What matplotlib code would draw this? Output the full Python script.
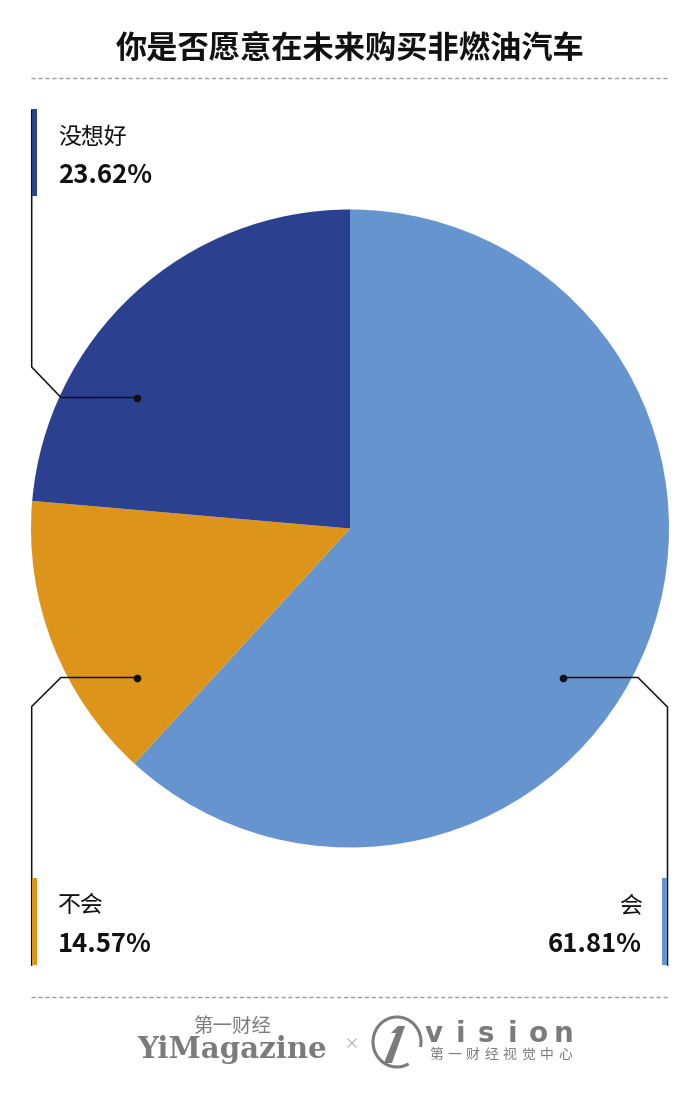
import matplotlib
matplotlib.use("Agg")
import matplotlib.pyplot as plt
from matplotlib.patches import Arc, Rectangle, Polygon
import numpy as np

plt.rcParams['font.family'] = ['Noto Sans CJK SC', 'DejaVu Sans']

# data
title = "你是否愿意在未来购买非燃油汽车"
labels = ["会", "不会", "没想好"]
values = [61.81, 14.57, 23.62]
colors = ["#6694CE", "#DD941B", "#2B418F"]

W, H = 700, 1101
fig = plt.figure(figsize=(W / 100, H / 100), dpi=100)
ax = fig.add_axes([0, 0, 1, 1])

# pie (y axis is inverted below, so start at -90 and go "counterclock" = clockwise on screen)
cx, cy, R = 350, 528.5, 319
ax.pie(values, colors=colors, startangle=-90, counterclock=True,
       center=(cx, cy), radius=R, wedgeprops=dict(linewidth=0))

ax.set_xlim(0, W)
ax.set_ylim(H, 0)
ax.set_aspect('auto')
ax.axis('off')

# title + dashed rules
ax.text(350, 57, title, ha='center', va='baseline', fontsize=22.5,
        fontweight='bold', color='#111111')
for yy in (78, 997):
    ax.plot([31, 669], [yy, yy], color='#9a9a9a', lw=1, ls=(0, (3, 2)))

# leader lines
leaders = {
    "没想好": [(137, 397.5), (61, 397.5), (31.7, 367), (31.7, 110)],
    "不会": [(137, 677.5), (61, 677.5), (31.7, 706.5), (31.7, 965)],
    "会": [(563, 677.5), (638, 677.5), (667.5, 707), (667.5, 965)],
}
for lab in labels:
    pts = np.array(leaders[lab])
    ax.plot(pts[:, 0], pts[:, 1], color='#111111', lw=1.1, solid_joinstyle='miter')
    ax.plot(pts[0, 0], pts[0, 1], 'o', color='#111111', ms=4.5)

# label blocks: (bar x, bar top, text x, name baseline, pct baseline, ha)
blocks = {
    "没想好": (31.5, 109, 58, 144, 183, 'left'),
    "不会": (31.5, 878, 58, 912, 952, 'left'),
    "会": (661.5, 878, 642, 912, 952, 'right'),
}
for lab, val, col in zip(labels, values, colors):
    bx, by, tx, ny, py, ha = blocks[lab]
    ax.add_patch(Rectangle((bx, by), 5.5, 87, color=col, lw=0, zorder=3))
    ax.text(tx, ny, lab, ha=ha, va='baseline', fontsize=16.5, color='#111111')
    ax.text(tx, py, f"{val:.2f}%", ha=ha, va='baseline', fontsize=18.5,
            fontweight='bold', color='#111111')

# footer logos
gray = '#7b7b7b'
ax.text(232, 1032, "第一财经", ha='center', va='baseline', fontsize=14, color=gray)
ax.text(232, 1058, "YiMagazine", ha='center', va='baseline', fontsize=21,
        fontweight='bold', family='DejaVu Serif', color=gray)
ax.plot([348, 356], [1039, 1047], color='#b0b0b0', lw=0.8)
ax.plot([348, 356], [1047, 1039], color='#b0b0b0', lw=0.8)
ax.add_patch(Arc((397, 1042), 48, 50, theta1=62, theta2=372, color=gray, lw=2.2))
ax.add_patch(Polygon([(384, 1063), (392, 1063), (405, 1026), (398, 1026),
                      (391, 1033), (396, 1033)], closed=True, color=gray, lw=0))
for x, ch in zip(np.linspace(434, 564, 6), "vision"):
    ax.text(x, 1042, ch, ha='center', va='baseline', fontsize=20,
            fontweight='bold', family='DejaVu Sans', color=gray)
for x, ch in zip(np.linspace(436, 565, 8), "第一财经视觉中心"):
    ax.text(x, 1059, ch, ha='center', va='baseline', fontsize=10, color=gray)

fig.savefig("out.png", dpi=100, facecolor='white')
